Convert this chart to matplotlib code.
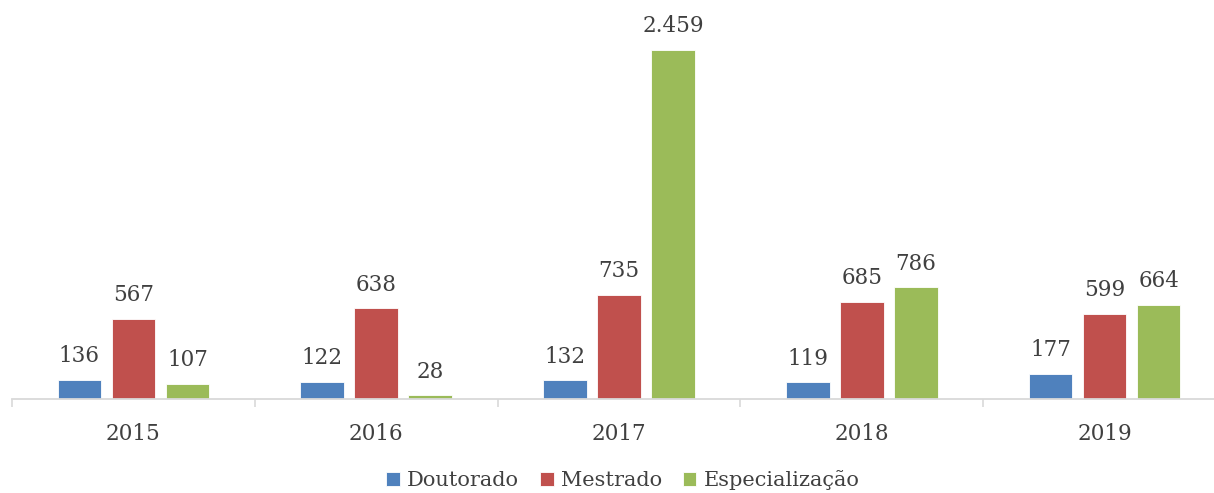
import numpy as np
import matplotlib
matplotlib.use('Agg')
import matplotlib.pyplot as plt
from matplotlib.ticker import FixedLocator

# ── Dados ────────────────────────────────────────────────
anos          = ['2015', '2016', '2017', '2018', '2019']
doutorado     = [136, 122, 132, 119, 177]
mestrado      = [567, 638, 735, 685, 599]
especializacao = [107, 28, 2459, 786, 664]

series = [('Doutorado', doutorado, '#4F81BD'),
          ('Mestrado', mestrado, '#C0504D'),
          ('Especialização', especializacao, '#9BBB59')]

plt.rcParams['font.family'] = ['DejaVu Serif']
TXT = '#404040'

W, H = 1214, 493
fig = plt.figure(figsize=(W / 100, H / 100), dpi=100)
ax = fig.add_axes([12 / W, 94 / H, 1214 / W, 399 / H])

x = np.arange(len(anos))
offset = 0.2224
width = 0.18

for i, (nome, vals, cor) in enumerate(series):
    pos = x + (i - 1) * offset
    bars = ax.bar(pos, vals, width=width, color=cor, edgecolor='white',
                  linewidth=0.6, label=nome, zorder=2)
    for xi, v in zip(pos, vals):
        txt = f'{v:,}'.replace(',', '.')
        ax.annotate(txt, xy=(xi, v), xytext=(0, 9), textcoords='offset points',
                    ha='center', va='bottom', fontsize=15.5, color=TXT)

ax.set_xlim(-0.5, 4.5)
ax.set_ylim(0, 2811)

for s in ['top', 'right', 'left']:
    ax.spines[s].set_visible(False)
ax.spines['bottom'].set_color('#D9D9D9')
ax.spines['bottom'].set_linewidth(1.3)
ax.set_yticks([])

ax.set_xticks(x)
ax.set_xticklabels(anos, fontsize=15.5, color=TXT)
ax.tick_params(axis='x', which='major', length=0, pad=17)
ax.xaxis.set_minor_locator(FixedLocator(np.arange(-0.5, 5.0, 1.0)))
ax.tick_params(axis='x', which='minor', length=6, width=1.2, color='#D9D9D9')

fig.legend(loc='center', bbox_to_anchor=(623 / W, 1 - 480 / H), ncol=3,
           frameon=False, fontsize=15, handlelength=0.65, handleheight=0.65,
           handletextpad=0.35, columnspacing=1.0, labelcolor=TXT,
           borderpad=0)

fig.savefig('out.png', dpi=100)
